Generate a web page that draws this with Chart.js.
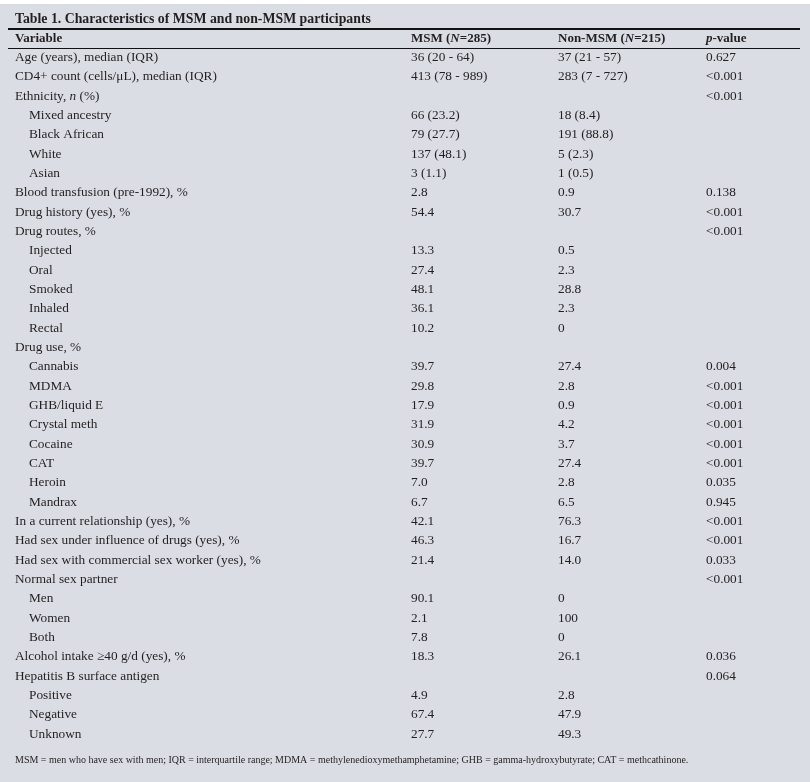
<!DOCTYPE html>
<html>
<head>
<meta charset="utf-8">
<script src="https://cdn.jsdelivr.net/npm/chart.js@4.4.1/dist/chart.umd.min.js"></script>
<style>
  html, body { margin: 0; padding: 0; background: #ffffff; }
  #wrap { width: 810px; height: 782px; position: relative; }
</style>
</head>
<body>
<div id="wrap"><canvas id="table1"></canvas></div>
<script>
// Table content (italic parts marked with _..._)
const title = 'Table 1. Characteristics of MSM and non-MSM participants';
const headers = ['Variable', 'MSM (_N_=285)', 'Non-MSM (_N_=215)', '_p_-value'];

const variables = [
    'Age (years), median (IQR)',
    'CD4+ count (cells/\u03bcL), median (IQR)',
    'Ethnicity, _n_ (%)',
    'Mixed ancestry', 'Black African', 'White', 'Asian',
    'Blood transfusion (pre-1992), %',
    'Drug history (yes), %',
    'Drug routes, %',
    'Injected', 'Oral', 'Smoked', 'Inhaled', 'Rectal',
    'Drug use, %',
    'Cannabis', 'MDMA', 'GHB/liquid E', 'Crystal meth', 'Cocaine', 'CAT', 'Heroin', 'Mandrax',
    'In a current relationship (yes), %',
    'Had sex under influence of drugs (yes), %',
    'Had sex with commercial sex worker (yes), %',
    'Normal sex partner',
    'Men', 'Women', 'Both',
    'Alcohol intake \u226540 g/d (yes), %',
    'Hepatitis B surface antigen',
    'Positive', 'Negative', 'Unknown'
];

// 0 = main variable, 1 = sub-category
const levels = [0, 0, 0, 1, 1, 1, 1, 0, 0, 0, 1, 1, 1, 1, 1, 0, 1, 1, 1, 1, 1, 1, 1, 1,
                0, 0, 0, 0, 1, 1, 1, 0, 0, 1, 1, 1];

const msm = ['36 (20 - 64)', '413 (78 - 989)', '', '66 (23.2)', '79 (27.7)', '137 (48.1)', '3 (1.1)',
    '2.8', '54.4', '', '13.3', '27.4', '48.1', '36.1', '10.2', '',
    '39.7', '29.8', '17.9', '31.9', '30.9', '39.7', '7.0', '6.7',
    '42.1', '46.3', '21.4', '', '90.1', '2.1', '7.8', '18.3', '', '4.9', '67.4', '27.7'];

const nonMsm = ['37 (21 - 57)', '283 (7 - 727)', '', '18 (8.4)', '191 (88.8)', '5 (2.3)', '1 (0.5)',
    '0.9', '30.7', '', '0.5', '2.3', '28.8', '2.3', '0', '',
    '27.4', '2.8', '0.9', '4.2', '3.7', '27.4', '2.8', '6.5',
    '76.3', '16.7', '14.0', '', '0', '100', '0', '26.1', '', '2.8', '47.9', '49.3'];

const pValues = ['0.627', '<0.001', '<0.001', '', '', '', '',
    '0.138', '<0.001', '<0.001', '', '', '', '', '', '',
    '0.004', '<0.001', '<0.001', '<0.001', '<0.001', '<0.001', '0.035', '0.945',
    '<0.001', '<0.001', '0.033', '<0.001', '', '', '', '0.036', '0.064', '', '', ''];

const footnote = 'MSM = men who have sex with men; IQR = interquartile range; MDMA = methylenedioxymethamphetamine; GHB = gamma-hydroxybutyrate; CAT = methcathinone.';

// layout
const FONT = '"Liberation Serif", "DejaVu Serif", serif';
const INK = '#231f20';
const BG = '#dadde4';
const colOffsets = [7, 403, 550, 698];   // from chartArea.left
const indent = 14;

// draw a string where _..._ parts are italic
function drawRich(ctx, text, x, y, size, weight) {
    const parts = text.split('_');
    let cx = x;
    parts.forEach(function (part, i) {
        if (!part) return;
        const italic = i % 2 === 1;
        ctx.font = (italic ? 'italic ' : '') + weight + ' ' + size + 'px ' + FONT;
        ctx.fillText(part, cx, y);
        cx += ctx.measureText(part).width;
    });
}

const tablePlugin = {
    id: 'tablePlugin',
    beforeDraw(chart) {
        const ctx = chart.ctx;
        ctx.save();
        ctx.fillStyle = '#ffffff';
        ctx.fillRect(0, 0, chart.width, chart.height);
        ctx.fillStyle = BG;
        ctx.fillRect(0, 4, chart.width, chart.height - 4);
        ctx.restore();
    },
    afterDraw(chart) {
        const ctx = chart.ctx;
        const area = chart.chartArea;
        const y = chart.scales.y;
        const x0 = area.left;
        ctx.save();
        ctx.fillStyle = INK;
        ctx.textBaseline = 'middle';
        ctx.textAlign = 'left';

        // title
        drawRich(ctx, title, x0 + colOffsets[0], 19, 13.8, 'bold');

        // rules
        ctx.strokeStyle = '#111111';
        ctx.lineWidth = 2;
        ctx.beginPath();
        ctx.moveTo(x0, 29);
        ctx.lineTo(area.right, 29);
        ctx.stroke();
        ctx.lineWidth = 1;
        ctx.beginPath();
        ctx.moveTo(x0, Math.round(area.top) + 0.5);
        ctx.lineTo(area.right, Math.round(area.top) + 0.5);
        ctx.stroke();

        // header row
        headers.forEach(function (h, c) {
            drawRich(ctx, h, x0 + colOffsets[c], 39, 13, 'bold');
        });

        // body rows, positioned by the category scale
        const columns = [variables, msm, nonMsm, pValues];
        variables.forEach(function (label, i) {
            const py = y.getPixelForValue(i);
            columns.forEach(function (col, c) {
                const txt = col[i];
                if (!txt) return;
                const px = x0 + colOffsets[c] + (c === 0 && levels[i] ? indent : 0);
                drawRich(ctx, txt, px, py, 13.3, 'normal');
            });
        });

        // footnote
        drawRich(ctx, footnote, x0 + colOffsets[0], 760, 10, 'normal');
        ctx.restore();
    }
};

new Chart(document.getElementById('table1'), {
    type: 'bar',
    data: {
        labels: variables,
        datasets: []
    },
    options: {
        responsive: true,
        maintainAspectRatio: false,
        animation: false,
        indexAxis: 'y',
        layout: { padding: { top: 48, bottom: 38, left: 8, right: 10 } },
        plugins: {
            legend: { display: false },
            tooltip: { enabled: false }
        },
        scales: {
            x: { display: false, min: 0, max: 1 },
            y: { display: false, offset: true, ticks: { autoSkip: false } }
        }
    },
    plugins: [tablePlugin]
});
</script>
</body>
</html>
